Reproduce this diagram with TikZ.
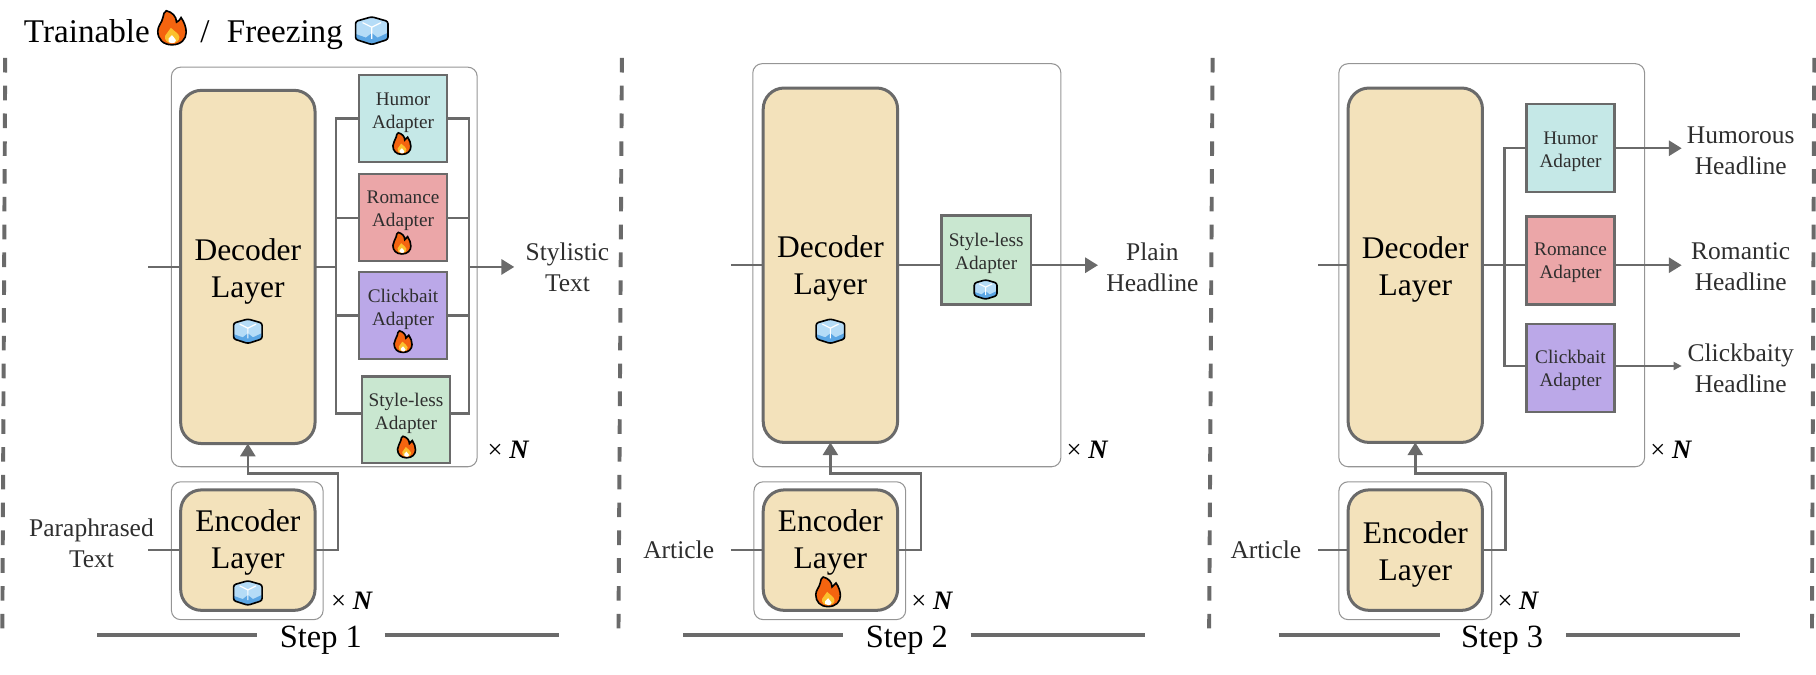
\documentclass[tikz,border=0pt]{standalone}
\usepackage{fontspec}
\setmainfont{Liberation Serif}
\usetikzlibrary{arrows.meta, calc}
\definecolor{linegray}{HTML}{6A6A6A}
\definecolor{framegray}{HTML}{959595}
\definecolor{labelgray}{HTML}{2E2E2E}
\definecolor{layerfill}{HTML}{F3E2BB}
\definecolor{humorfill}{HTML}{C5E8E7}
\definecolor{romancefill}{HTML}{EBA6A8}
\definecolor{clickfill}{HTML}{BBA8E8}
\definecolor{plainfill}{HTML}{C9E7D0}
\definecolor{flameorange}{HTML}{F4640F}
\definecolor{flameyellow}{HTML}{FBC02D}
\definecolor{icelight}{HTML}{B5DCF7}
\definecolor{icedark}{HTML}{5BA6E4}
\tikzset{
  flame/.pic={
    \draw[fill=flameorange] (0,15) .. controls (-8,15) and (-12.5,10) .. (-12.5,3) .. controls (-12.5,-2) and (-9,-4) .. (-8,-9) .. controls (-7.5,-12) and (-7,-14) .. (-5,-15) .. controls (0,-14) and (4,-10) .. (4,-5) .. controls (6,-6) and (7,-7) .. (8,-9) .. controls (11,-5) and (12.5,0) .. (12.5,4) .. controls (12.5,10) and (8,15) .. (0,15) -- cycle;
    \fill[flameyellow] (0,13.5) .. controls (-4,13.5) and (-7,11) .. (-6,7) .. controls (-5,4) and (-2,3) .. (-1,0) .. controls (2,3) and (6,5) .. (6.5,8) .. controls (7,11) and (4,13.5) .. (0,13.5) -- cycle;
    \fill[white] (0,13.5) .. controls (-3,13.5) and (-4,11) .. (-3,9.5) .. controls (-2,8.5) and (-1,8) .. (0,6.5) .. controls (1,8) and (3,9.5) .. (3.5,11) .. controls (3.5,13) and (2,13.5) .. (0,13.5) -- cycle;
  },
  icecube/.pic={
    \fill[icelight, rounded corners=1pt] (0,-12) -- (14,-8) -- (14,7.5) -- (0,12) -- (-14,7.5) -- (-14,-8) -- cycle;
    \fill[icedark] (-13.5,3) -- (-5,6) -- (0,2) -- (5,6) -- (13.5,2) -- (13.5,7) -- (0,11.5) -- (-13.5,7) -- cycle;
    \draw[white, line width=.5pt] (0,-3) -- (0,7) (0,-3) -- (-8,-7) (0,-3) -- (8,-7);
    \draw[rounded corners=1pt] (0,-12) -- (14,-8) -- (14,7.5) -- (0,12) -- (-14,7.5) -- (-14,-8) -- cycle;
  },
  every pic/.style={line width=.7pt},
  framebox/.style={rectangle, draw=framegray, line width=.45pt, rounded corners=4pt, outer sep=0pt},
  layerbox/.style={rectangle, draw=linegray, fill=layerfill, line width=1.3pt, rounded corners=9pt, outer sep=0pt},
  decoderbox/.style={layerbox, minimum width=58pt, minimum height=152.5pt},
  encoderbox/.style={layerbox, minimum width=58pt, minimum height=52pt},
  adapterbox/.style={rectangle, draw=linegray, line width=1pt, outer sep=0pt, minimum width=38pt, minimum height=37.5pt},
  adaptertext/.style={align=center, inner sep=0pt, text=labelgray, font=\fontsize{8.3}{10}\selectfont},
  layertext/.style={align=center, inner sep=0pt, font=\fontsize{13.6}{16}\selectfont},
  outtext/.style={align=center, inner sep=0pt, text=labelgray, font=\fontsize{11}{13.5}\selectfont},
  legendtext/.style={anchor=base, inner sep=0pt, font=\fontsize{14.3}{16}\selectfont},
  steptext/.style={inner sep=0pt, font=\fontsize{14}{16}\selectfont},
  repeattext/.style={inner sep=0pt, font=\fontsize{11.5}{13}\selectfont},
  conn/.style={draw=linegray, line width=1.05pt},
  bigarrow/.style={conn, -{Triangle[length=5.5pt,width=6.5pt]}},
  thinarrow/.style={conn, line width=.8pt, -{Triangle[length=3.5pt,width=3.5pt]}},
  stepline/.style={draw=linegray, line width=1.6pt},
  divider/.style={draw=linegray, line width=1.7pt, dash pattern=on 6.3pt off 5.7pt}
}
\begin{document}
\begin{tikzpicture}[x=.5pt, y=-.5pt]
\useasboundingbox (0,0) rectangle (1568,582.8);
% legend
\node[legendtext] (trainable) at (75,37) {Trainable};
\pic[scale=.98, line width=.9pt] at (148.5,24) {flame};
\node[legendtext] (slash) at (177,37) {/};
\node[legendtext] (freezing) at (246,37) {Freezing};
\pic[line width=.9pt] at (321,26.5) {icecube};
% dividers
\draw[divider] (4.5,50) -- (2,546);
\draw[divider] (537,50) -- (534,546);
\draw[divider] (1047,50) -- (1044,546);
\draw[divider] (1566.5,50) -- (1564.5,546);

% step 1
\node[framebox, minimum width=132pt, minimum height=172.5pt] (frame1) at (280,230.5) {};
\node[framebox, minimum width=65.5pt, minimum height=59.5pt] (efram1) at (213.5,475.5) {};
\node[decoderbox] (dec1) at (214,230.5) {};
\node[layertext] (dect1) at (214,234) {Decoder\\Layer};
\pic[scale=.88] at (214,286) {icecube};
\node[encoderbox] (enc1) at (214,475) {};
\node[layertext] (enct1) at (214,468) {Encoder\\Layer};
\pic[scale=.88] at (214,512) {icecube};
\node[adapterbox, fill=humorfill] (hum1) at (348,102.5) {};
\node[adapterbox, fill=romancefill] (rom1) at (348,188) {};
\node[adapterbox, fill=clickfill] (cli1) at (348,272.5) {};
\node[adapterbox, fill=plainfill] (sty1) at (350.5,362.5) {};
\node[adaptertext] (humt1) at (348,97) {Humor\\Adapter};
\node[adaptertext] (romt1) at (348,182) {Romance\\Adapter};
\node[adaptertext] (clit1) at (348,267) {Clickbait\\Adapter};
\node[adaptertext] (styt1) at (350.5,357) {Style-less\\Adapter};
\pic[scale=.62, line width=.6pt] at (347,124) {flame};
\pic[scale=.62, line width=.6pt] at (347,210) {flame};
\pic[scale=.62, line width=.6pt] at (348,295) {flame};
\pic[scale=.62, line width=.6pt] at (351,386) {flame};
\coordinate (in1) at (128,230.5);
\coordinate (split1) at (290,230.5);
\coordinate (merge1) at (405,230.5);
\coordinate (out1) at (444,230.5);
\coordinate (styin1) at (313,357);
\coordinate (styout1) at (388,357);
\coordinate (einp1) at (128,475);
\coordinate (eturn1) at (292,409);
\draw[conn] (in1) -- (dec1.west);
\draw[conn] (dec1.east) -- (split1);
\draw[conn] (hum1.west) -| (split1) |- (styin1);
\draw[conn] (rom1.west) -| (split1);
\draw[conn] (cli1.west) -| (split1);
\draw[conn] (hum1.east) -| (merge1) |- (styout1);
\draw[conn] (rom1.east) -| (merge1);
\draw[conn] (cli1.east) -| (merge1);
\draw[bigarrow] (merge1) -- (out1);
\draw[conn] (einp1) -- (enc1.west);
\draw[bigarrow] (enc1.east) -| (eturn1) -| (dec1.south);
\node[outtext] (text1) at (490,231) {Stylistic\\Text};
\node[outtext] (para1) at (79,469) {Paraphrased\\Text};
\node[repeattext] (rep1) at (439,388) {× \textbf{\textit{N}}};
\node[repeattext] (erep1) at (304,519) {× \textbf{\textit{N}}};
\node[steptext] (step1) at (277,553) {Step 1};
\draw[stepline] (84,548) -- (222,548);
\draw[stepline] (332,548) -- (483,548);

% step 2
\node[framebox, minimum width=133pt, minimum height=174pt] (frame2) at (783,229) {};
\node[framebox, minimum width=65.5pt, minimum height=59.5pt] (efram2) at (716.5,475.5) {};
\node[decoderbox, minimum height=153pt] (dec2) at (717,229) {};
\node[layertext] (dect2) at (717,232) {Decoder\\Layer};
\pic[scale=.88] at (717,286) {icecube};
\node[encoderbox] (enc2) at (717,475) {};
\node[layertext] (enct2) at (717,468) {Encoder\\Layer};
\pic[scale=.85, line width=.8pt] at (715,511) {flame};
\node[adapterbox, fill=plainfill, minimum width=38.5pt, minimum height=38.5pt] (sty2) at (851.5,224.5) {};
\node[adaptertext] (styt2) at (851.5,219) {Style-less\\Adapter};
\pic[scale=.7, line width=.6pt] at (851,250) {icecube};
\coordinate (in2) at (631,229);
\coordinate (styin2) at (813,229);
\coordinate (styout2) at (890,229);
\coordinate (out2) at (948,229);
\coordinate (einp2) at (631,475);
\coordinate (eturn2) at (795,409);
\draw[conn] (in2) -- (dec2.west);
\draw[conn] (dec2.east) -- (styin2);
\draw[bigarrow] (styout2) -- (out2);
\draw[conn] (einp2) -- (enc2.west);
\draw[bigarrow] (enc2.east) -| (eturn2) -| (dec2.south);
\node[outtext] (text2) at (995,231) {Plain\\Headline};
\node[outtext] (para2) at (586,475) {Article};
\node[repeattext] (rep2) at (939,388) {× \textbf{\textit{N}}};
\node[repeattext] (erep2) at (805,519) {× \textbf{\textit{N}}};
\node[steptext] (step2) at (783,553) {Step 2};
\draw[stepline] (590,548) -- (728,548);
\draw[stepline] (838,548) -- (989,548);

% step 3
\node[framebox, minimum width=132pt, minimum height=174pt] (frame3) at (1288,229) {};
\node[framebox, minimum width=66pt, minimum height=59.5pt] (efram3) at (1222,475.5) {};
\node[decoderbox, minimum height=153pt] (dec3) at (1222,229) {};
\node[layertext] (dect3) at (1222,233) {Decoder\\Layer};
\node[encoderbox] (enc3) at (1222,475) {};
\node[layertext] (enct3) at (1222,479) {Encoder\\Layer};
\node[adapterbox, fill=humorfill, minimum height=38pt] (hum3) at (1356,128) {};
\node[adapterbox, fill=romancefill, minimum height=38pt] (rom3) at (1356,225) {};
\node[adapterbox, fill=clickfill, minimum height=38pt] (cli3) at (1356,318) {};
\node[adaptertext] (humt3) at (1356,131) {Humor\\Adapter};
\node[adaptertext] (romt3) at (1356,227) {Romance\\Adapter};
\node[adaptertext] (clit3) at (1356,320) {Clickbait\\Adapter};
\coordinate (in3) at (1138,229);
\coordinate (split3) at (1299,229);
\coordinate (romin3) at (1318,229);
\coordinate (romout3) at (1394,229);
\coordinate (cliin3) at (1318,316);
\coordinate (cliout3) at (1394,316);
\coordinate (out31) at (1452,128);
\coordinate (out32) at (1452,229);
\coordinate (out33) at (1452,316);
\coordinate (einp3) at (1138,475);
\coordinate (eturn3) at (1300,409);
\draw[conn] (in3) -- (dec3.west);
\draw[conn] (dec3.east) -- (romin3);
\draw[conn] (hum3.west) -| (split3) |- (cliin3);
\draw[bigarrow] (hum3.east) -- (out31);
\draw[bigarrow] (romout3) -- (out32);
\draw[thinarrow] (cliout3) -- (out33);
\draw[conn] (einp3) -- (enc3.west);
\draw[bigarrow] (enc3.east) -| (eturn3) -| (dec3.south);
\node[outtext] (text31) at (1503,130) {Humorous\\Headline};
\node[outtext] (text32) at (1503,230) {Romantic\\Headline};
\node[outtext] (text33) at (1503,318) {Clickbaity\\Headline};
\node[outtext] (para3) at (1093,475) {Article};
\node[repeattext] (rep3) at (1443,388) {× \textbf{\textit{N}}};
\node[repeattext] (erep3) at (1311,519) {× \textbf{\textit{N}}};
\node[steptext] (step3) at (1297,553) {Step 3};
\draw[stepline] (1104,548) -- (1243,548);
\draw[stepline] (1352,548) -- (1502,548);
\end{tikzpicture}
\end{document}
